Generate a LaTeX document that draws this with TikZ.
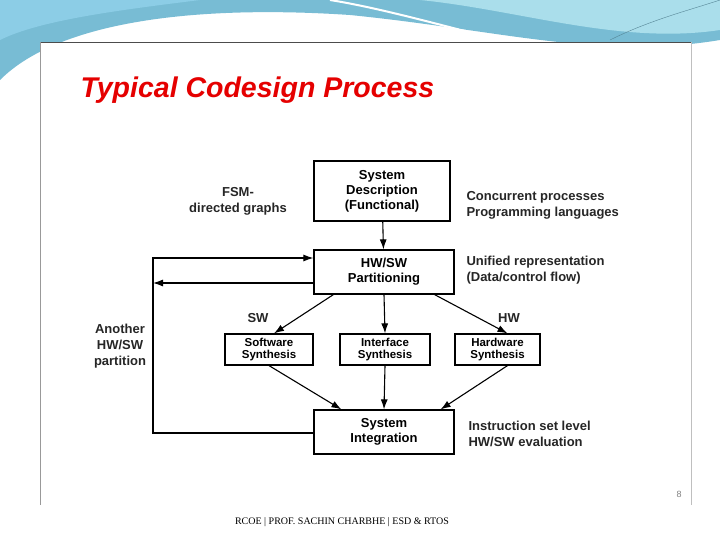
\documentclass[tikz,border=0pt]{standalone}
\usepackage{fontspec}
\usetikzlibrary{arrows.meta}
\setmainfont{Liberation Sans}
\newfontfamily\footfont{Liberation Serif}
\definecolor{bgA}{RGB}{120,188,212}
\definecolor{bgB}{RGB}{170,222,235}
\definecolor{bgC}{RGB}{140,205,230}
\begin{document}
\begin{tikzpicture}[x=1pt,y=-1pt,
  box/.style={draw,line width=1.2pt,align=center,font=\bfseries\fontsize{13}{15}\selectfont,inner sep=1pt},
  sbox/.style={draw,line width=1.2pt,align=center,font=\bfseries\fontsize{11.5}{12.5}\selectfont,inner sep=0pt},
  lbl/.style={align=left,font=\bfseries\fontsize{13}{16}\selectfont,text=black!85},
  arr/.style={-{Latex[length=10pt,width=7pt]},line width=1.1pt}]
\useasboundingbox (0,0) rectangle (720,540);
\fill[white] (0,0) rectangle (720,540);
% background swoosh
\fill[bgA] (0,0) -- (720,0) -- (720,40) .. controls (600,60) and (500,30) .. (350,15) .. controls (200,5) and (60,20) .. (0,80) -- cycle;
\fill[bgB] (250,0) -- (720,0) -- (720,30) .. controls (620,45) and (520,10) .. (420,0) -- cycle;
\fill[bgC] (0,40) .. controls (40,20) and (120,10) .. (200,0) -- (0,0) -- cycle;
\draw[white,line width=2pt] (330,0) .. controls (380,8) and (440,25) .. (500,40);
\draw[bgA!70!black] (610,40) .. controls (650,20) and (690,10) .. (720,0);
\fill[white] (40,42) rectangle (691,505);
\draw[black!70,line width=0.8pt] (40,42) -- (691,42);
\draw[black!25] (691,42) -- (691,505);
\draw[black!40] (40,42) -- (40,505);
\node[anchor=west,text=red!90!black,font=\bfseries\itshape\fontsize{28.5}{30}\selectfont] (title) at (77,90) {Typical Codesign Process};
% boxes
\node[box,minimum width=136pt,minimum height=60pt] (sd) at (382,191) {System\\Description\\(Functional)};
\node[box,minimum width=140pt,minimum height=44pt] (hp) at (384,272) {HW/SW\\Partitioning};
\node[sbox,minimum width=88pt,minimum height=31pt] (ss) at (269,349.5) {Software\\Synthesis};
\node[sbox,minimum width=90pt,minimum height=31pt] (is) at (385,349.5) {Interface\\Synthesis};
\node[sbox,minimum width=85pt,minimum height=31pt] (hs) at (497.5,349.5) {Hardware\\Synthesis};
\node[box,minimum width=140pt,minimum height=44pt] (si) at (384,432) {System\\Integration};
% labels
\node[lbl,align=center] (fsm) at (238,201) {FSM-\\directed graphs};
\node[lbl,anchor=west] (cp) at (463,205) {Concurrent processes\\Programming languages};
\node[lbl,anchor=west] (ur) at (463,270) {Unified representation\\(Data/control flow)};
\node[lbl,anchor=west] (ie) at (465,434) {Instruction set level\\HW/SW evaluation};
\node[lbl] (sw) at (258,318) {SW};
\node[lbl] (hw) at (509,318) {HW};
\node[lbl,align=center] (an) at (120,346) {Another\\HW/SW\\partition};
% arrows
\draw[arr] (sd) -- (hp);
\draw[arr] (hp.south) -- (is.north);
\draw[arr] ([xshift=20pt]hp.south west) -- ([xshift=5pt]ss.north);
\draw[arr] ([xshift=-20pt]hp.south east) -- ([xshift=10pt]hs.north);
\draw[arr] (is.south) -- (si.north);
\draw[arr] (ss.south) -- ([xshift=28pt]si.north west);
\draw[arr] ([xshift=10pt]hs.south) -- ([xshift=-14pt]si.north east);
\coordinate (c1) at (153,258);
\coordinate (c2) at (153,283);
\coordinate (c3) at (153,433);
\draw[arr] (hp.west |- c2) -- (c2);
\draw[arr] (si.west |- c3) -- (c3) -- (c1) -- (hp.west |- c1);
% footer
\node[font=\footfont\fontsize{10}{12}\selectfont] (ft) at (342,522) {RCOE | PROF. SACHIN CHARBHE | ESD \& RTOS};
\node[text=black!50,font=\fontsize{9}{10}\selectfont] (pg) at (679,494) {8};
\end{tikzpicture}
\end{document}
